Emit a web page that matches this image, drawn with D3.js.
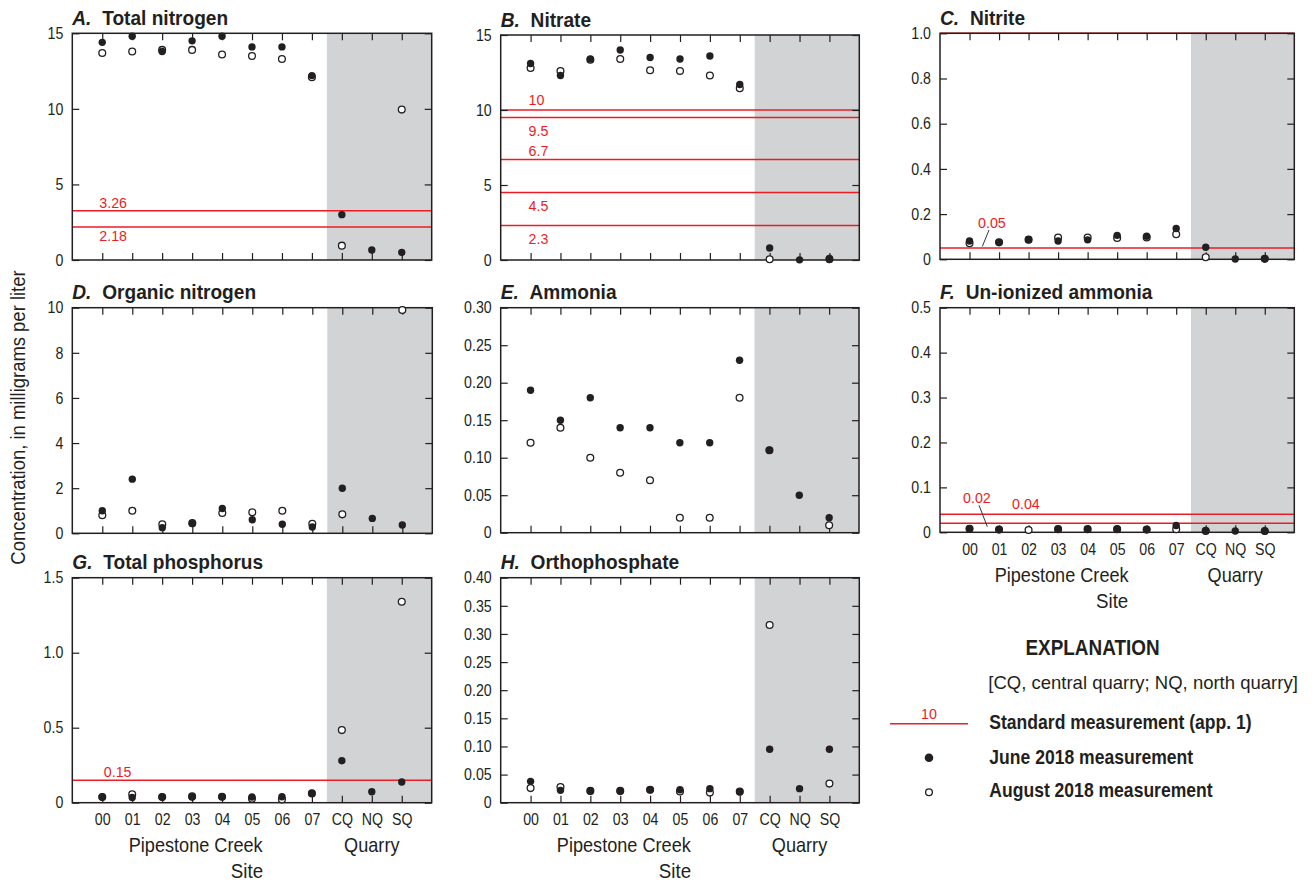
<!DOCTYPE html>
<html>
<head>
<meta charset="utf-8">
<script src="https://cdn.jsdelivr.net/npm/d3@7"></script>
<style>
  html, body { margin: 0; padding: 0; background: #ffffff; }
  svg { display: block; }
  text { font-family: "Liberation Sans", Arial, Helvetica, sans-serif; fill: #231f20; }
</style>
</head>
<body>
<svg id="chart" width="1315" height="884"></svg>
<script>
// Sampling sites along Pipestone Creek and the quarries
const sites = ["00", "01", "02", "03", "04", "05", "06", "07", "CQ", "NQ", "SQ"];
const quarrySites = ["CQ", "NQ", "SQ"];

// Concentrations, mg/L (null = not measured)
const totalNitrogenJune = [14.4, 14.8, 13.8, 14.5, 14.8, 14.1, 14.1, 12.2, 3.0, 0.66, 0.5];
const totalNitrogenAug  = [13.7, 13.8, 13.9, 13.9, 13.6, 13.5, 13.3, 12.1, 0.95, null, 9.95];

const nitrateJune = [13.1, 12.3, 13.4, 14.0, 13.5, 13.4, 13.6, 11.7, 0.8, 0.01, 0.1];
const nitrateAug  = [12.8, 12.6, 13.35, 13.4, 12.65, 12.6, 12.3, 11.45, 0.05, null, 0.05];

const nitriteJune = [0.081, 0.075, 0.087, 0.081, 0.086, 0.106, 0.102, 0.136, 0.053, 0.001, 0.003];
const nitriteAug  = [0.071, 0.075, 0.087, 0.096, 0.096, 0.094, 0.097, 0.111, 0.009, null, 0.002];

const organicNitrogenJune = [1.0, 2.4, 0.25, 0.43, 1.1, 0.6, 0.4, 0.28, 2.0, 0.66, 0.37];
const organicNitrogenAug  = [0.8, 1.0, 0.4, 0.45, 0.9, 0.93, 1.0, 0.42, 0.84, null, 9.9];

const ammoniaJune = [0.19, 0.15, 0.18, 0.14, 0.14, 0.12, 0.12, 0.23, 0.11, 0.05, 0.02];
const ammoniaAug  = [0.12, 0.14, 0.10, 0.08, 0.07, 0.02, 0.02, 0.18, 0.11, null, 0.01];

const unionizedAmmoniaJune = [0.008, 0.006, null, 0.007, 0.007, 0.007, 0.006, 0.015, 0.004, 0.003, 0.003];
const unionizedAmmoniaAug  = [0.008, 0.006, 0.005, 0.007, 0.007, 0.007, 0.006, 0.007, 0.003, null, 0.003];

const totalPhosphorusJune = [0.038, 0.035, 0.038, 0.038, 0.04, 0.038, 0.04, 0.062, 0.28, 0.073, 0.138];
const totalPhosphorusAug  = [0.038, 0.056, 0.038, 0.042, 0.04, 0.027, 0.022, 0.062, 0.484, null, 1.34];

const orthophosphateJune = [0.038, 0.022, 0.021, 0.021, 0.023, 0.023, 0.025, 0.019, 0.095, 0.025, 0.095];
const orthophosphateAug  = [0.026, 0.028, 0.021, 0.021, 0.023, 0.020, 0.018, 0.020, 0.316, null, 0.034];

// Standards (app. 1), mg/L
const stdTotalNitrogen = [3.26, 2.18];
const stdNitrate = [10, 9.5, 6.7, 4.5, 2.3];
const stdNitrite = [1.0, 0.05];
const stdUnionizedAmmonia = [0.04, 0.02];
const stdTotalPhosphorus = [0.15];

// Y-axis tick values
const ticksTotalNitrogen = [0, 5, 10, 15];
const ticksNitrate = [0, 5, 10, 15];
const ticksNitrite = [0, 0.2, 0.4, 0.6, 0.8, 1.0];
const ticksOrganicNitrogen = [0, 2, 4, 6, 8, 10];
const ticksAmmonia = [0, 0.05, 0.10, 0.15, 0.20, 0.25, 0.30];
const ticksUnionizedAmmonia = [0, 0.1, 0.2, 0.3, 0.4, 0.5];
const ticksTotalPhosphorus = [0, 0.5, 1.0, 1.5];
const ticksOrthophosphate = [0, 0.05, 0.10, 0.15, 0.20, 0.25, 0.30, 0.35, 0.40];

const RED = "#ed1c24";
const INK = "#231f20";
const SHADE = "#d1d3d4";

const fmtWith = (spec) => { const f = d3.format(spec); return v => v === 0 ? "0" : f(v); };

// Text drawn horizontally condensed by factor k
function label(parent, x, y, str, o = {}) {
  const k = o.k ?? 0.9;
  const rot = o.rotate ? ` rotate(${o.rotate})` : "";
  const t = parent.append("text")
    .attr("transform", `translate(${x},${y})${rot} scale(${k},1)`)
    .attr("text-anchor", o.anchor || "start")
    .style("font-size", (o.size || 16) + "px")
    .style("font-weight", o.weight || "normal");
  if (o.fill) t.style("fill", o.fill);
  if (str != null) t.text(str);
  return t;
}

// Panel layout: frame box, title, scale and standard-label placement
const panels = [
  { letter: "A.", title: "Total nitrogen", box: [72.3, 431.7, 33.3, 260], max: 15,
    ticks: ticksTotalNitrogen, fmt: fmtWith("d"), june: totalNitrogenJune, aug: totalNitrogenAug,
    std: stdTotalNitrogen,
    stdLabels: [{ text: "3.26", dx: -3, dy: -3 }, { text: "2.18", dx: -3, dy: 14 }] },
  { letter: "B.", title: "Nitrate", box: [500.7, 859.3, 35, 260], max: 15,
    ticks: ticksNitrate, fmt: fmtWith("d"), june: nitrateJune, aug: nitrateAug,
    std: stdNitrate,
    stdLabels: [{ text: "10", dx: -2, dy: -5 }, { text: "9.5", dx: -2, dy: 18 },
                { text: "6.7", dx: -2, dy: -4 }, { text: "4.5", dx: -2, dy: 18 },
                { text: "2.3", dx: -2, dy: 18 }] },
  { letter: "C.", title: "Nitrite", box: [940, 1294.3, 33.3, 259.3], max: 1.0,
    ticks: ticksNitrite, fmt: fmtWith(".1f"), june: nitriteJune, aug: nitriteAug,
    std: stdNitrite,
    stdLabels: [null, { text: "0.05", dx: 8.5, dy: -20.5, leader: [[11, 2.5], [4.3, -1.5]] }] },
  { letter: "D.", title: "Organic nitrogen", box: [72.3, 432.3, 307.7, 533.3], max: 10,
    ticks: ticksOrganicNitrogen, fmt: fmtWith("d"), june: organicNitrogenJune, aug: organicNitrogenAug,
    std: [], stdLabels: [] },
  { letter: "E.", title: "Ammonia", box: [500.7, 859, 307.7, 532.7], max: 0.30,
    ticks: ticksAmmonia, fmt: fmtWith(".2f"), june: ammoniaJune, aug: ammoniaAug,
    std: [], stdLabels: [] },
  { letter: "F.", title: "Un-ionized ammonia", box: [940, 1294.3, 307.7, 532.3], max: 0.5,
    ticks: ticksUnionizedAmmonia, fmt: fmtWith(".1f"), june: unionizedAmmoniaJune, aug: unionizedAmmoniaAug,
    std: stdUnionizedAmmonia, xLabels: true,
    stdLabels: [{ text: "0.04", dx: 42.5, dy: -5 },
                { text: "0.02", dx: -6.5, dy: -20.5, leader: [[16, 2.5], [24.3, 3.4]] }] },
  { letter: "G.", title: "Total phosphorus", box: [72.3, 431.7, 577.7, 802.7], max: 1.5,
    ticks: ticksTotalPhosphorus, fmt: fmtWith(".1f"), june: totalPhosphorusJune, aug: totalPhosphorusAug,
    std: stdTotalPhosphorus, xLabels: true,
    stdLabels: [{ text: "0.15", dx: 1.5, dy: -3 }] },
  { letter: "H.", title: "Orthophosphate", box: [500.7, 859.3, 577.7, 802.7], max: 0.40,
    ticks: ticksOrthophosphate, fmt: fmtWith(".2f"), june: orthophosphateJune, aug: orthophosphateAug,
    std: [], stdLabels: [], xLabels: true }
];

const svg = d3.select("#chart");
const TICK_K = 0.86;

panels.forEach(p => {
  const [x0, x1, y0, y1] = p.box;
  const x = d3.scalePoint().domain(sites).range([x0, x1]).padding(1);
  const y = d3.scaleLinear().domain([0, p.max]).range([y1, y0]);
  const step = x.step();
  const g = svg.append("g");

  // Quarry sites shaded
  const shadeStart = (x("07") + x("CQ")) / 2;
  g.append("rect")
    .attr("x", shadeStart).attr("y", y0)
    .attr("width", x1 - shadeStart).attr("height", y1 - y0)
    .attr("fill", SHADE);

  // Standards
  g.selectAll("line.std").data(p.std).join("line")
    .attr("class", "std")
    .attr("x1", x0).attr("x2", x1)
    .attr("y1", d => y(d)).attr("y2", d => y(d))
    .attr("stroke", RED).attr("stroke-width", 1.5);

  p.std.forEach((v, i) => {
    const lab = p.stdLabels[i];
    if (!lab) return;
    const lx = x("00") + lab.dx, ly = y(v) + lab.dy;
    label(g, lx, ly, lab.text, { size: 15.5, k: 0.92, fill: RED });
    if (lab.leader) {
      g.append("line")
        .attr("x1", lx + lab.leader[0][0]).attr("y1", ly + lab.leader[0][1])
        .attr("x2", lx + lab.leader[1][0]).attr("y2", y(v) + lab.leader[1][1])
        .attr("stroke", INK).attr("stroke-width", 0.9);
    }
  });

  // Axes with inward ticks on all four sides
  const styleAxis = sel => {
    sel.select(".domain").remove();
    sel.selectAll(".tick line").attr("stroke", INK).attr("stroke-width", 1.2);
    sel.selectAll(".tick text")
      .style("font-size", "16.5px").style("fill", INK)
      .style("font-family", "'Liberation Sans', Arial, sans-serif")
      .each(function () {
        const t = d3.select(this);
        const tx = +t.attr("x") || 0;
        t.attr("x", tx / TICK_K).attr("transform", `scale(${TICK_K},1)`);
      });
  };

  g.append("g").attr("transform", `translate(${x0},0)`)
    .call(d3.axisLeft(y).tickValues(p.ticks).tickFormat(p.fmt).tickSize(-7).tickPadding(9))
    .call(styleAxis);
  g.append("g").attr("transform", `translate(${x1},0)`)
    .call(d3.axisRight(y).tickValues(p.ticks).tickFormat("").tickSize(-7))
    .call(styleAxis);
  g.append("g").attr("transform", `translate(0,${y1})`)
    .call(d3.axisBottom(x).tickSize(-7).tickPadding(11).tickFormat(p.xLabels ? (d => d) : ""))
    .call(styleAxis);
  g.append("g").attr("transform", `translate(0,${y0})`)
    .call(d3.axisTop(x).tickFormat("").tickSize(-7))
    .call(styleAxis);

  // Frame
  g.append("rect")
    .attr("x", x0).attr("y", y0).attr("width", x1 - x0).attr("height", y1 - y0)
    .attr("fill", "none").attr("stroke", INK).attr("stroke-width", 1.5);

  // Title
  const t = label(g, x0, y0 - 8.5, null, { size: 19.5, weight: "bold", k: 0.98 });
  t.append("tspan").style("font-style", "italic").text(p.letter);
  t.append("tspan").attr("dx", 11).text(p.title);

  // August (open) then June (filled) measurements
  const augPts = sites.map((s, i) => ({ s, v: p.aug[i] })).filter(d => d.v != null);
  const junPts = sites.map((s, i) => ({ s, v: p.june[i] })).filter(d => d.v != null);
  g.selectAll("circle.aug").data(augPts).join("circle")
    .attr("class", "aug")
    .attr("cx", d => x(d.s)).attr("cy", d => y(d.v)).attr("r", 3.4)
    .attr("fill", "#ffffff").attr("stroke", INK).attr("stroke-width", 1.3);
  g.selectAll("circle.jun").data(junPts).join("circle")
    .attr("class", "jun")
    .attr("cx", d => x(d.s)).attr("cy", d => y(d.v)).attr("r", 3.7)
    .attr("fill", INK);

  // Site group labels
  if (p.xLabels) {
    label(g, x("03") + 0.12 * step, y1 + 49.3, "Pipestone Creek", { size: 19.5, k: 0.93, anchor: "middle" });
    label(g, x(quarrySites[1]), y1 + 49.3, "Quarry", { size: 19.5, k: 0.93, anchor: "middle" });
    label(g, (x0 + x1) / 2 - 5, y1 + 75.5, "Site", { size: 19.5, k: 0.96, anchor: "middle" });
  }
});

// Shared y-axis title
label(svg, 25, 417.5, "Concentration, in milligrams per liter", { size: 20.5, k: 0.9, anchor: "middle", rotate: -90 });

// Explanation
const lg = svg.append("g");
label(lg, 1092.5, 655, "EXPLANATION", { size: 22, k: 0.86, weight: "bold", anchor: "middle" });
label(lg, 988.3, 689.3, "[CQ, central quarry; NQ, north quarry]", { size: 18.5, k: 1.0 });
lg.append("line").attr("x1", 890).attr("x2", 968).attr("y1", 723.7).attr("y2", 723.7)
  .attr("stroke", RED).attr("stroke-width", 1.5);
label(lg, 929, 718.7, "10", { size: 15.5, k: 0.92, fill: RED, anchor: "middle" });
label(lg, 989.3, 729.3, "Standard measurement (app. 1)", { size: 19.5, k: 0.9, weight: "bold" });
lg.append("circle").attr("cx", 929).attr("cy", 757.7).attr("r", 4.3).attr("fill", INK);
label(lg, 989.3, 764, "June 2018 measurement", { size: 19.5, k: 0.9, weight: "bold" });
lg.append("circle").attr("cx", 929).attr("cy", 792.3).attr("r", 3.4)
  .attr("fill", "#ffffff").attr("stroke", INK).attr("stroke-width", 1.3);
label(lg, 989.3, 796.7, "August 2018 measurement", { size: 19.5, k: 0.9, weight: "bold" });
</script>
</body>
</html>
